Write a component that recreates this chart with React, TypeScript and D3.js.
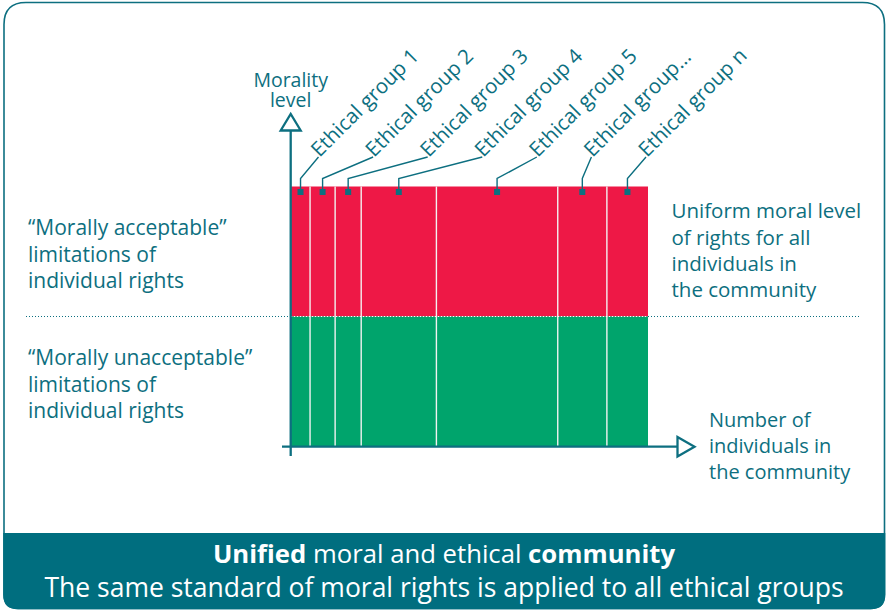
import { useEffect, useRef } from "react";
import * as d3 from "d3";

// groups along the x axis (relative number of individuals in each)
const groups = [
  "Ethical group 1",
  "Ethical group 2",
  "Ethical group 3",
  "Ethical group 4",
  "Ethical group 5",
  "Ethical group...",
  "Ethical group n",
];
const groupSizes = [19, 25, 26, 75, 121, 49, 41];

// moral level is the same for everybody
const moralLevel = 1;
const acceptableLimit = 0.5;

const leftTop = ["\u201CMorally acceptable\u201D", "limitations of", "individual rights"];
const leftBottom = ["\u201CMorally unacceptable\u201D", "limitations of", "individual rights"];
const rightTop = ["Uniform moral level", "of rights for all", "individuals in", "the community"];
const xAxisLabel = ["Number of", "individuals in", "the community"];
const yAxisLabel = ["Morality", "level"];

const TEAL = "#0d6f80";
const BAND = "#006e7f";
const RED = "#ee1846";
const GREEN = "#00a46c";
const FONT = "'Open Sans', 'Noto Sans', sans-serif";

const W = 888;
const H = 611;

const App = () => {
  const svgRef = useRef<SVGSVGElement>(null);

  useEffect(() => {
    const svg = d3.select(svgRef.current);
    svg.selectAll("*").remove();

    // frame
    const fl = 4, fr = 884.5, ft = 2.5, fb = 608.5, rt = 22, rb = 14;
    const framePath = `M${fl},${ft + rt} Q${fl},${ft} ${fl + rt},${ft} L${fr - rt},${ft} Q${fr},${ft} ${fr},${ft + rt}
      L${fr},${fb - rb} Q${fr},${fb} ${fr - rb},${fb} L${fl + rb},${fb} Q${fl},${fb} ${fl},${fb - rb} Z`;
    svg.append("path").attr("d", framePath).attr("fill", "#fff").attr("stroke", TEAL).attr("stroke-width", 1.6);
    const bandTop = 533;
    svg
      .append("path")
      .attr("d", `M${fl - 0.8},${bandTop} L${fr + 0.8},${bandTop} L${fr + 0.8},${fb - rb} Q${fr + 0.8},${fb + 0.8} ${fr - rb},${fb + 0.8}
        L${fl + rb},${fb + 0.8} Q${fl - 0.8},${fb + 0.8} ${fl - 0.8},${fb - rb} Z`)
      .attr("fill", BAND);

    const x = d3.scaleLinear().domain([0, d3.sum(groupSizes)]).range([291, 648]);
    const y = d3.scaleLinear().domain([0, moralLevel]).range([446.5, 186.5]);
    const labelX = d3.scalePoint<string>().domain(groups).range([318.5, 646]);

    const starts = groupSizes.map((_, i) => d3.sum(groupSizes.slice(0, i)));

    // bars: unacceptable (green) under the limit, acceptable (red) above it
    const gBars = svg.append("g");
    gBars
      .append("rect")
      .attr("x", x(0))
      .attr("y", y(moralLevel))
      .attr("width", x(d3.sum(groupSizes)) - x(0))
      .attr("height", y(acceptableLimit) - y(moralLevel))
      .attr("fill", RED);
    gBars
      .append("rect")
      .attr("x", x(0))
      .attr("y", y(acceptableLimit))
      .attr("width", x(d3.sum(groupSizes)) - x(0))
      .attr("height", y(0) - y(acceptableLimit))
      .attr("fill", GREEN);

    // separators between groups
    gBars
      .selectAll("line.sep")
      .data(starts.slice(1))
      .join("line")
      .attr("class", "sep")
      .attr("x1", (d) => x(d))
      .attr("x2", (d) => x(d))
      .attr("y1", y(moralLevel))
      .attr("y2", y(0))
      .attr("stroke", "#f2f2f2")
      .attr("stroke-width", 1.4);

    // dotted limit line
    const ly = y(acceptableLimit);
    svg.append("line").attr("x1", 26).attr("x2", x(0)).attr("y1", ly).attr("y2", ly)
      .attr("stroke", TEAL).attr("stroke-width", 1.1).attr("stroke-dasharray", "1 2");
    svg.append("line").attr("x1", x(0)).attr("x2", x(d3.sum(groupSizes))).attr("y1", ly).attr("y2", ly)
      .attr("stroke", "#fff").attr("stroke-width", 1.1).attr("stroke-dasharray", "1 2");
    svg.append("line").attr("x1", x(d3.sum(groupSizes))).attr("x2", 860).attr("y1", ly).attr("y2", ly)
      .attr("stroke", TEAL).attr("stroke-width", 1.1).attr("stroke-dasharray", "1 2");

    // group labels with leader lines
    const gLab = svg.append("g");
    groups.forEach((g, i) => {
      const cx = x(starts[i] + groupSizes[i] / 2);
      const tx = labelX(g) as number;
      const my = y(moralLevel) + 5.5;
      gLab
        .append("path")
        .attr("d", `M${cx},${my} L${cx},178.5 L${tx},157`)
        .attr("fill", "none")
        .attr("stroke", TEAL)
        .attr("stroke-width", 1.4);
      gLab
        .append("rect")
        .attr("x", cx - 3)
        .attr("y", my - 3)
        .attr("width", 6)
        .attr("height", 6)
        .attr("fill", TEAL);
      gLab
        .append("text")
        .attr("transform", `translate(${tx + 1},${158}) rotate(-45)`)
        .attr("font-family", FONT)
        .attr("font-size", 20.5)
        .attr("fill", TEAL)
        .text(g);
    });

    // axes
    const gAxis = svg.append("g").attr("stroke", TEAL).attr("stroke-width", 2.3).attr("fill", "none");
    gAxis.append("line").attr("x1", 290.7).attr("x2", 290.7).attr("y1", 456).attr("y2", 130.5);
    gAxis.append("path").attr("d", "M280.7,130.5 L300.7,130.5 L290.7,114 Z").attr("fill", "#fff").attr("stroke-linejoin", "miter");
    gAxis.append("line").attr("x1", 282).attr("x2", 677.5).attr("y1", 446.7).attr("y2", 446.7);
    gAxis.append("path").attr("d", "M677.5,437 L677.5,456.4 L694.5,446.7 Z").attr("fill", "#fff");

    const addLines = (lines: string[], x0: number, y0: number, lh: number, size: number, anchor = "start") => {
      const t = svg
        .append("text")
        .attr("font-family", FONT)
        .attr("font-size", size)
        .attr("fill", TEAL)
        .attr("text-anchor", anchor);
      lines.forEach((l, i) => t.append("tspan").attr("x", x0).attr("y", y0 + i * lh).text(l));
    };

    addLines(yAxisLabel, 290.7, 86.5, 20, 19.5, "middle");
    addLines(leftTop, 28, 235, 26.6, 21);
    addLines(leftBottom, 28, 365, 26.6, 21);
    addLines(rightTop, 671.5, 218.3, 26.3, 20.5);
    addLines(xAxisLabel, 709, 427.3, 25.9, 20);

    // bottom caption
    const cap1 = svg
      .append("text")
      .attr("x", W / 2)
      .attr("y", 563.3)
      .attr("text-anchor", "middle")
      .attr("font-family", FONT)
      .attr("font-size", 25.7)
      .attr("fill", "#fff");
    cap1.append("tspan").attr("font-weight", "bold").text("Unified");
    cap1.append("tspan").text(" moral and ethical ");
    cap1.append("tspan").attr("font-weight", "bold").text("community");
    svg
      .append("text")
      .attr("x", W / 2)
      .attr("y", 596.7)
      .attr("text-anchor", "middle")
      .attr("font-family", FONT)
      .attr("font-size", 26.5)
      .attr("fill", "#fff")
      .text("The same standard of moral rights is applied to all ethical groups");
  }, []);

  return (
    <div style={{ position: "absolute", left: 0, top: 0, width: W, height: H, background: "#fff" }}>
      <svg ref={svgRef} width={W} height={H} style={{ display: "block" }}></svg>
    </div>
  );
};

export default App;
